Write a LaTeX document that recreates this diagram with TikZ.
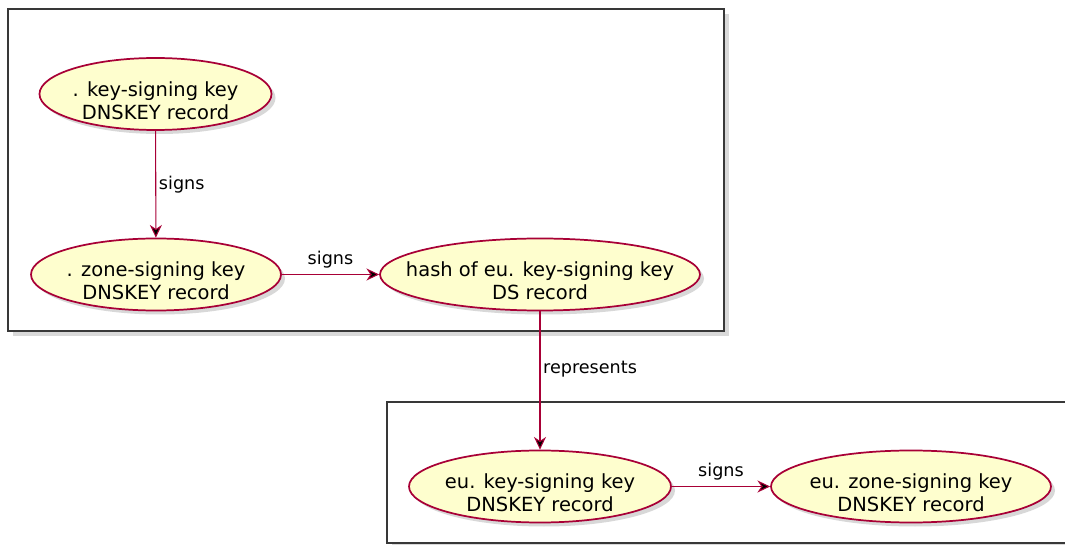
\documentclass[tikz,border=0pt]{standalone}
\usepackage{fontspec}
\setmainfont{DejaVu Sans}
\usetikzlibrary{shapes.geometric,arrows.meta,shadows}

\definecolor{ucfill}{HTML}{FEFECE}
\definecolor{ucline}{HTML}{A80036}
\definecolor{boxline}{HTML}{383838}

\tikzset{
  usecase/.style 2 args={ellipse, draw=ucline, line width=1.3pt, fill=ucfill,
    minimum width=#1, minimum height=54pt, inner sep=0pt,
    drop shadow={shadow xshift=3pt, shadow yshift=-3pt, opacity=0.3},
    label={[uctext]center:#2}},
  uctext/.style={align=center, yshift=-5pt, inner sep=0pt,
    font=\fontsize{14.6}{17.3}\selectfont},
  zonebox/.style={draw=boxline, line width=1.5pt, fill=white,
    drop shadow={shadow xshift=3.5pt, shadow yshift=-3.5pt, opacity=0.3}},
  flow/.style={draw=ucline, line width=0.8pt,
    -{Stealth[length=9.5pt, width=9pt, inset=3pt]}},
  lbl/.style={font=\fontsize{13.2}{16}\selectfont, inner sep=2pt}
}

\begin{document}
\begin{tikzpicture}[x=0.75pt, y=-0.75pt]
  \useasboundingbox (0,0) rectangle (1065,545);
  \clip (0,0) rectangle (1065,545);

  % zones
  \draw[zonebox] (8,9) rectangle (724,331);
  \draw[zonebox] (387,402) rectangle (1090,543);

  % root zone
  \node (rootksk) [usecase={174pt}{. key-signing key\\DNSKEY record}] at (155.5,94) {};
  \node (rootzsk) [usecase={187.5pt}{. zone-signing key\\DNSKEY record}] at (156,274.5) {};
  \node (dshash) [usecase={240pt}{hash of eu. key-signing key\\DS record}] at (540,274.5) {};

  % eu. zone
  \node (euksk) [usecase={196.5pt}{eu. key-signing key\\DNSKEY record}] at (540,486.5) {};
  \node (euzsk) [usecase={210pt}{eu. zone-signing key\\DNSKEY record}] at (911,486.5) {};

  \path[flow]
  (rootksk) edge node [lbl, right] {signs} (rootzsk)
  (rootzsk) edge node [lbl, above, yshift=2pt] {signs} (dshash)
  (dshash) edge node [lbl, right, pos=0.42] {represents} (euksk)
  (euksk) edge node [lbl, above, yshift=2pt] {signs} (euzsk);
\end{tikzpicture}
\end{document}
